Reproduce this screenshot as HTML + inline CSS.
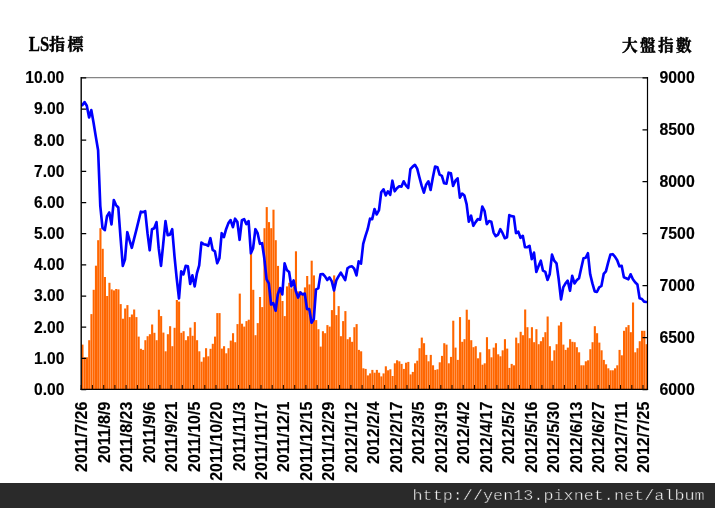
<!DOCTYPE html>
<html lang="zh-Hant">
<head>
<meta charset="utf-8">
<title>LS指標 / 大盤指數</title>
<style>
html,body{margin:0;padding:0;background:#fff;}
body{width:715px;height:508px;overflow:hidden;position:relative;}
svg{position:absolute;left:0;top:0;display:block;}
.ax{font-family:"Liberation Sans",Arial,sans-serif;font-weight:bold;font-size:16px;fill:#000;stroke:#000;stroke-width:0.15px;}
.tt{font-family:"Liberation Serif","Noto Serif CJK SC",serif;font-weight:bold;fill:#000;}
.ft{font-family:"Liberation Mono","Courier New",monospace;font-size:16.6px;fill:#ffffff;stroke:#2a2a2a;stroke-width:0.5px;}
</style>
</head>
<body>
<svg width="715" height="508" viewBox="0 0 715 508">
<rect x="0" y="0" width="715" height="508" fill="#ffffff"/>

<g fill="#ff6600" shape-rendering="auto">
<rect x="81.42" y="344.6" width="2.10" height="44.4"/>
<rect x="83.67" y="357.3" width="2.10" height="31.7"/>
<rect x="85.92" y="357.3" width="2.10" height="31.7"/>
<rect x="88.17" y="340.2" width="2.10" height="48.8"/>
<rect x="90.41" y="314.1" width="2.10" height="74.9"/>
<rect x="92.66" y="289.8" width="2.10" height="99.2"/>
<rect x="94.91" y="265.7" width="2.10" height="123.3"/>
<rect x="97.15" y="240.2" width="2.10" height="148.8"/>
<rect x="99.40" y="228.2" width="2.10" height="160.8"/>
<rect x="101.65" y="248.8" width="2.10" height="140.2"/>
<rect x="103.90" y="277.0" width="2.10" height="112.0"/>
<rect x="106.14" y="296.0" width="2.10" height="93.0"/>
<rect x="108.39" y="282.8" width="2.10" height="106.2"/>
<rect x="110.64" y="289.4" width="2.10" height="99.6"/>
<rect x="112.88" y="290.4" width="2.10" height="98.6"/>
<rect x="115.13" y="289.0" width="2.10" height="100.0"/>
<rect x="117.38" y="289.4" width="2.10" height="99.6"/>
<rect x="119.63" y="304.1" width="2.10" height="84.9"/>
<rect x="121.87" y="318.7" width="2.10" height="70.3"/>
<rect x="124.12" y="308.5" width="2.10" height="80.5"/>
<rect x="126.37" y="305.1" width="2.10" height="83.9"/>
<rect x="128.62" y="317.1" width="2.10" height="71.9"/>
<rect x="130.86" y="314.5" width="2.10" height="74.5"/>
<rect x="133.11" y="309.5" width="2.10" height="79.5"/>
<rect x="135.36" y="317.1" width="2.10" height="71.9"/>
<rect x="137.60" y="336.6" width="2.10" height="52.4"/>
<rect x="139.85" y="348.8" width="2.10" height="40.2"/>
<rect x="142.10" y="349.9" width="2.10" height="39.1"/>
<rect x="144.35" y="340.2" width="2.10" height="48.8"/>
<rect x="146.59" y="336.2" width="2.10" height="52.8"/>
<rect x="148.84" y="334.2" width="2.10" height="54.8"/>
<rect x="151.09" y="324.5" width="2.10" height="64.5"/>
<rect x="153.33" y="332.8" width="2.10" height="56.2"/>
<rect x="155.58" y="340.2" width="2.10" height="48.8"/>
<rect x="157.83" y="309.7" width="2.10" height="79.3"/>
<rect x="160.08" y="316.1" width="2.10" height="72.9"/>
<rect x="162.32" y="332.6" width="2.10" height="56.4"/>
<rect x="164.57" y="351.3" width="2.10" height="37.7"/>
<rect x="166.82" y="334.2" width="2.10" height="54.8"/>
<rect x="169.07" y="326.2" width="2.10" height="62.8"/>
<rect x="171.31" y="346.2" width="2.10" height="42.8"/>
<rect x="173.56" y="327.8" width="2.10" height="61.2"/>
<rect x="175.81" y="300.0" width="2.10" height="89.0"/>
<rect x="178.05" y="301.6" width="2.10" height="87.4"/>
<rect x="180.30" y="332.8" width="2.10" height="56.2"/>
<rect x="182.55" y="331.2" width="2.10" height="57.8"/>
<rect x="184.80" y="340.2" width="2.10" height="48.8"/>
<rect x="187.04" y="336.2" width="2.10" height="52.8"/>
<rect x="189.29" y="327.6" width="2.10" height="61.4"/>
<rect x="191.54" y="335.8" width="2.10" height="53.2"/>
<rect x="193.78" y="322.1" width="2.10" height="66.9"/>
<rect x="196.03" y="340.2" width="2.10" height="48.8"/>
<rect x="198.28" y="351.3" width="2.10" height="37.7"/>
<rect x="200.53" y="361.7" width="2.10" height="27.3"/>
<rect x="202.77" y="357.3" width="2.10" height="31.7"/>
<rect x="205.02" y="348.2" width="2.10" height="40.8"/>
<rect x="207.27" y="356.3" width="2.10" height="32.7"/>
<rect x="209.52" y="348.8" width="2.10" height="40.2"/>
<rect x="211.76" y="343.8" width="2.10" height="45.2"/>
<rect x="214.01" y="336.6" width="2.10" height="52.4"/>
<rect x="216.26" y="313.1" width="2.10" height="75.9"/>
<rect x="218.50" y="313.1" width="2.10" height="75.9"/>
<rect x="220.75" y="348.6" width="2.10" height="40.4"/>
<rect x="223.00" y="346.2" width="2.10" height="42.8"/>
<rect x="225.25" y="353.3" width="2.10" height="35.7"/>
<rect x="227.49" y="348.2" width="2.10" height="40.8"/>
<rect x="229.74" y="340.6" width="2.10" height="48.4"/>
<rect x="231.99" y="333.2" width="2.10" height="55.8"/>
<rect x="234.23" y="342.2" width="2.10" height="46.8"/>
<rect x="236.48" y="324.1" width="2.10" height="64.9"/>
<rect x="238.73" y="293.6" width="2.10" height="95.4"/>
<rect x="240.98" y="323.7" width="2.10" height="65.3"/>
<rect x="243.22" y="326.6" width="2.10" height="62.4"/>
<rect x="245.47" y="321.1" width="2.10" height="67.9"/>
<rect x="247.72" y="319.7" width="2.10" height="69.3"/>
<rect x="249.97" y="252.3" width="2.10" height="136.7"/>
<rect x="252.21" y="289.8" width="2.10" height="99.2"/>
<rect x="254.46" y="335.2" width="2.10" height="53.8"/>
<rect x="256.71" y="323.1" width="2.10" height="65.9"/>
<rect x="258.95" y="297.0" width="2.10" height="92.0"/>
<rect x="261.20" y="307.1" width="2.10" height="81.9"/>
<rect x="263.45" y="228.2" width="2.10" height="160.8"/>
<rect x="265.70" y="207.1" width="2.10" height="181.9"/>
<rect x="267.94" y="222.1" width="2.10" height="166.9"/>
<rect x="270.19" y="228.2" width="2.10" height="160.8"/>
<rect x="272.44" y="209.7" width="2.10" height="179.3"/>
<rect x="274.68" y="240.2" width="2.10" height="148.8"/>
<rect x="276.93" y="265.9" width="2.10" height="123.1"/>
<rect x="279.18" y="288.4" width="2.10" height="100.6"/>
<rect x="281.43" y="301.0" width="2.10" height="88.0"/>
<rect x="283.67" y="316.1" width="2.10" height="72.9"/>
<rect x="285.92" y="286.4" width="2.10" height="102.6"/>
<rect x="288.17" y="282.8" width="2.10" height="106.2"/>
<rect x="290.42" y="288.4" width="2.10" height="100.6"/>
<rect x="292.66" y="286.4" width="2.10" height="102.6"/>
<rect x="294.91" y="251.3" width="2.10" height="137.7"/>
<rect x="297.16" y="291.4" width="2.10" height="97.6"/>
<rect x="299.40" y="291.4" width="2.10" height="97.6"/>
<rect x="301.65" y="292.8" width="2.10" height="96.2"/>
<rect x="303.90" y="287.4" width="2.10" height="101.6"/>
<rect x="306.15" y="276.0" width="2.10" height="113.0"/>
<rect x="308.39" y="284.4" width="2.10" height="104.6"/>
<rect x="310.64" y="260.7" width="2.10" height="128.3"/>
<rect x="312.89" y="275.4" width="2.10" height="113.6"/>
<rect x="315.13" y="320.1" width="2.10" height="68.9"/>
<rect x="317.38" y="329.2" width="2.10" height="59.8"/>
<rect x="319.63" y="346.6" width="2.10" height="42.4"/>
<rect x="321.88" y="331.2" width="2.10" height="57.8"/>
<rect x="324.12" y="333.2" width="2.10" height="55.8"/>
<rect x="326.37" y="325.1" width="2.10" height="63.9"/>
<rect x="328.62" y="326.6" width="2.10" height="62.4"/>
<rect x="330.87" y="310.1" width="2.10" height="78.9"/>
<rect x="333.11" y="275.4" width="2.10" height="113.6"/>
<rect x="335.36" y="315.1" width="2.10" height="73.9"/>
<rect x="337.61" y="306.1" width="2.10" height="82.9"/>
<rect x="339.85" y="336.2" width="2.10" height="52.8"/>
<rect x="342.10" y="321.1" width="2.10" height="67.9"/>
<rect x="344.35" y="311.1" width="2.10" height="77.9"/>
<rect x="346.60" y="339.2" width="2.10" height="49.8"/>
<rect x="348.84" y="337.2" width="2.10" height="51.8"/>
<rect x="351.09" y="341.8" width="2.10" height="47.2"/>
<rect x="353.34" y="327.2" width="2.10" height="61.8"/>
<rect x="355.58" y="324.1" width="2.10" height="64.9"/>
<rect x="357.83" y="349.9" width="2.10" height="39.1"/>
<rect x="360.08" y="351.3" width="2.10" height="37.7"/>
<rect x="362.33" y="368.3" width="2.10" height="20.7"/>
<rect x="364.57" y="368.9" width="2.10" height="20.1"/>
<rect x="366.82" y="375.4" width="2.10" height="13.6"/>
<rect x="369.07" y="373.4" width="2.10" height="15.6"/>
<rect x="371.32" y="369.9" width="2.10" height="19.1"/>
<rect x="373.56" y="372.7" width="2.10" height="16.3"/>
<rect x="375.81" y="369.9" width="2.10" height="19.1"/>
<rect x="378.06" y="372.7" width="2.10" height="16.3"/>
<rect x="380.30" y="376.4" width="2.10" height="12.6"/>
<rect x="382.55" y="373.4" width="2.10" height="15.6"/>
<rect x="384.80" y="366.3" width="2.10" height="22.7"/>
<rect x="387.05" y="370.3" width="2.10" height="18.7"/>
<rect x="389.29" y="369.3" width="2.10" height="19.7"/>
<rect x="391.54" y="376.0" width="2.10" height="13.0"/>
<rect x="393.79" y="363.3" width="2.10" height="25.7"/>
<rect x="396.03" y="360.3" width="2.10" height="28.7"/>
<rect x="398.28" y="361.3" width="2.10" height="27.7"/>
<rect x="400.53" y="363.9" width="2.10" height="25.1"/>
<rect x="402.78" y="368.9" width="2.10" height="20.1"/>
<rect x="405.02" y="362.7" width="2.10" height="26.3"/>
<rect x="407.27" y="361.9" width="2.10" height="27.1"/>
<rect x="409.52" y="374.4" width="2.10" height="14.6"/>
<rect x="411.77" y="371.9" width="2.10" height="17.1"/>
<rect x="414.01" y="363.3" width="2.10" height="25.7"/>
<rect x="416.26" y="360.7" width="2.10" height="28.3"/>
<rect x="418.51" y="348.2" width="2.10" height="40.8"/>
<rect x="420.75" y="337.6" width="2.10" height="51.4"/>
<rect x="423.00" y="343.2" width="2.10" height="45.8"/>
<rect x="425.25" y="354.9" width="2.10" height="34.1"/>
<rect x="427.50" y="361.3" width="2.10" height="27.7"/>
<rect x="429.74" y="354.9" width="2.10" height="34.1"/>
<rect x="431.99" y="365.3" width="2.10" height="23.7"/>
<rect x="434.24" y="369.9" width="2.10" height="19.1"/>
<rect x="436.48" y="369.3" width="2.10" height="19.7"/>
<rect x="438.73" y="362.3" width="2.10" height="26.7"/>
<rect x="440.98" y="355.9" width="2.10" height="33.1"/>
<rect x="443.23" y="343.2" width="2.10" height="45.8"/>
<rect x="445.47" y="344.6" width="2.10" height="44.4"/>
<rect x="447.72" y="363.3" width="2.10" height="25.7"/>
<rect x="449.97" y="356.9" width="2.10" height="32.1"/>
<rect x="452.22" y="320.7" width="2.10" height="68.3"/>
<rect x="454.46" y="347.6" width="2.10" height="41.4"/>
<rect x="456.71" y="359.9" width="2.10" height="29.1"/>
<rect x="458.96" y="317.1" width="2.10" height="71.9"/>
<rect x="461.20" y="341.8" width="2.10" height="47.2"/>
<rect x="463.45" y="339.2" width="2.10" height="49.8"/>
<rect x="465.70" y="309.7" width="2.10" height="79.3"/>
<rect x="467.95" y="319.7" width="2.10" height="69.3"/>
<rect x="470.19" y="340.2" width="2.10" height="48.8"/>
<rect x="472.44" y="347.2" width="2.10" height="41.8"/>
<rect x="474.69" y="346.2" width="2.10" height="42.8"/>
<rect x="476.93" y="358.3" width="2.10" height="30.7"/>
<rect x="479.18" y="352.3" width="2.10" height="36.7"/>
<rect x="481.43" y="364.7" width="2.10" height="24.3"/>
<rect x="483.68" y="363.3" width="2.10" height="25.7"/>
<rect x="485.92" y="337.2" width="2.10" height="51.8"/>
<rect x="488.17" y="349.2" width="2.10" height="39.8"/>
<rect x="490.42" y="357.3" width="2.10" height="31.7"/>
<rect x="492.67" y="347.6" width="2.10" height="41.4"/>
<rect x="494.91" y="343.2" width="2.10" height="45.8"/>
<rect x="497.16" y="354.3" width="2.10" height="34.7"/>
<rect x="499.41" y="356.3" width="2.10" height="32.7"/>
<rect x="501.65" y="350.3" width="2.10" height="38.7"/>
<rect x="503.90" y="339.2" width="2.10" height="49.8"/>
<rect x="506.15" y="348.6" width="2.10" height="40.4"/>
<rect x="508.40" y="367.9" width="2.10" height="21.1"/>
<rect x="510.64" y="363.9" width="2.10" height="25.1"/>
<rect x="512.89" y="365.3" width="2.10" height="23.7"/>
<rect x="515.14" y="337.6" width="2.10" height="51.4"/>
<rect x="517.38" y="343.2" width="2.10" height="45.8"/>
<rect x="519.63" y="331.8" width="2.10" height="57.2"/>
<rect x="521.88" y="335.2" width="2.10" height="53.8"/>
<rect x="524.13" y="309.5" width="2.10" height="79.5"/>
<rect x="526.37" y="327.2" width="2.10" height="61.8"/>
<rect x="528.62" y="338.2" width="2.10" height="50.8"/>
<rect x="530.87" y="327.2" width="2.10" height="61.8"/>
<rect x="533.12" y="342.2" width="2.10" height="46.8"/>
<rect x="535.36" y="329.2" width="2.10" height="59.8"/>
<rect x="537.61" y="344.2" width="2.10" height="44.8"/>
<rect x="539.86" y="341.2" width="2.10" height="47.8"/>
<rect x="542.10" y="337.2" width="2.10" height="51.8"/>
<rect x="544.35" y="332.2" width="2.10" height="56.8"/>
<rect x="546.60" y="316.5" width="2.10" height="72.5"/>
<rect x="548.85" y="346.2" width="2.10" height="42.8"/>
<rect x="551.09" y="360.7" width="2.10" height="28.3"/>
<rect x="553.34" y="350.3" width="2.10" height="38.7"/>
<rect x="555.59" y="344.2" width="2.10" height="44.8"/>
<rect x="557.83" y="325.5" width="2.10" height="63.5"/>
<rect x="560.08" y="322.1" width="2.10" height="66.9"/>
<rect x="562.33" y="344.6" width="2.10" height="44.4"/>
<rect x="564.58" y="349.9" width="2.10" height="39.1"/>
<rect x="566.82" y="347.6" width="2.10" height="41.4"/>
<rect x="569.07" y="339.2" width="2.10" height="49.8"/>
<rect x="571.32" y="341.8" width="2.10" height="47.2"/>
<rect x="573.57" y="342.2" width="2.10" height="46.8"/>
<rect x="575.81" y="347.2" width="2.10" height="41.8"/>
<rect x="578.06" y="352.3" width="2.10" height="36.7"/>
<rect x="580.31" y="365.3" width="2.10" height="23.7"/>
<rect x="582.55" y="365.3" width="2.10" height="23.7"/>
<rect x="584.80" y="361.3" width="2.10" height="27.7"/>
<rect x="587.05" y="360.3" width="2.10" height="28.7"/>
<rect x="589.30" y="349.2" width="2.10" height="39.8"/>
<rect x="591.54" y="342.2" width="2.10" height="46.8"/>
<rect x="593.79" y="326.2" width="2.10" height="62.8"/>
<rect x="596.04" y="333.2" width="2.10" height="55.8"/>
<rect x="598.28" y="342.6" width="2.10" height="46.4"/>
<rect x="600.53" y="350.3" width="2.10" height="38.7"/>
<rect x="602.78" y="359.9" width="2.10" height="29.1"/>
<rect x="605.03" y="364.3" width="2.10" height="24.7"/>
<rect x="607.27" y="368.3" width="2.10" height="20.7"/>
<rect x="609.52" y="370.3" width="2.10" height="18.7"/>
<rect x="611.77" y="370.3" width="2.10" height="18.7"/>
<rect x="614.02" y="368.3" width="2.10" height="20.7"/>
<rect x="616.26" y="365.3" width="2.10" height="23.7"/>
<rect x="618.51" y="349.9" width="2.10" height="39.1"/>
<rect x="620.76" y="355.3" width="2.10" height="33.7"/>
<rect x="623.00" y="330.8" width="2.10" height="58.2"/>
<rect x="625.25" y="327.2" width="2.10" height="61.8"/>
<rect x="627.50" y="325.1" width="2.10" height="63.9"/>
<rect x="629.75" y="332.2" width="2.10" height="56.8"/>
<rect x="631.99" y="302.5" width="2.10" height="86.5"/>
<rect x="634.24" y="352.3" width="2.10" height="36.7"/>
<rect x="636.49" y="348.2" width="2.10" height="40.8"/>
<rect x="638.73" y="341.2" width="2.10" height="47.8"/>
<rect x="640.98" y="330.8" width="2.10" height="58.2"/>
<rect x="643.23" y="330.8" width="2.10" height="58.2"/>
<rect x="645.48" y="344.2" width="2.10" height="44.8"/>
</g>
<polyline points="82.3,105.1 84.6,102.1 86.8,105.7 89.1,117.5 91.3,110.1 93.6,123.1 95.8,136.6 98.1,150.3 100.3,206.1 102.5,227.8 104.8,230.2 107.0,216.1 109.3,212.5 111.5,224.5 113.8,200.0 116.0,205.1 118.3,207.5 120.5,237.2 122.8,265.9 125.0,259.3 127.3,232.2 129.5,240.2 131.8,247.8 134.0,239.2 136.3,230.2 138.5,221.1 140.8,211.7 143.0,212.1 145.2,211.1 147.5,233.2 149.7,250.3 152.0,229.2 154.2,228.2 156.5,222.1 158.7,248.2 161.0,265.9 163.2,244.2 165.5,221.1 167.7,235.2 170.0,234.6 172.2,229.2 174.5,256.3 176.7,278.4 179.0,298.5 181.2,271.3 183.4,274.4 185.7,265.9 187.9,266.3 190.2,284.0 192.4,275.4 194.7,286.4 196.9,273.4 199.2,265.3 201.4,242.6 203.7,244.2 205.9,244.6 208.2,245.8 210.4,238.2 212.7,249.9 214.9,251.3 217.2,263.3 219.4,258.3 221.7,233.2 223.9,237.2 226.1,229.2 228.4,223.1 230.6,220.1 232.9,227.2 235.1,218.7 237.4,222.1 239.6,239.8 241.9,220.1 244.1,219.1 246.4,224.1 248.6,221.1 250.9,253.3 253.1,248.2 255.4,229.2 257.6,233.2 259.9,243.8 262.1,243.2 264.3,258.3 266.6,279.4 268.8,283.4 271.1,304.5 273.3,303.1 275.6,310.7 277.8,294.4 280.1,288.0 282.3,294.4 284.6,263.3 286.8,269.9 289.1,271.9 291.3,286.4 293.6,280.4 295.8,291.0 298.1,297.6 300.3,292.4 302.6,294.4 304.8,293.6 307.0,309.1 309.3,309.1 311.5,322.7 313.8,319.1 316.0,289.4 318.3,288.4 320.5,274.4 322.8,274.0 325.0,276.4 327.3,280.0 329.5,277.4 331.8,281.4 334.0,290.4 336.3,280.4 338.5,276.4 340.8,272.7 343.0,276.4 345.2,280.0 347.5,268.3 349.7,266.7 352.0,266.3 354.2,268.7 356.5,275.4 358.7,261.3 361.0,263.7 363.2,243.8 365.5,235.8 367.7,229.2 370.0,218.7 372.2,219.1 374.5,209.1 376.7,214.5 379.0,210.1 381.2,192.3 383.5,189.3 385.7,195.4 387.9,191.3 390.2,194.8 392.4,180.7 394.7,191.3 396.9,188.3 399.2,186.3 401.4,186.7 403.7,181.3 405.9,185.3 408.2,187.9 410.4,169.2 412.7,166.6 414.9,164.8 417.2,168.6 419.4,177.3 421.7,185.9 423.9,192.7 426.1,184.7 428.4,181.3 430.6,189.9 432.9,177.3 435.1,166.6 437.4,167.2 439.6,174.7 441.9,175.9 444.1,183.3 446.4,183.7 448.6,172.7 450.9,173.3 453.1,185.9 455.4,180.7 457.6,178.3 459.9,197.6 462.1,193.6 464.4,195.6 466.6,204.1 468.8,221.7 471.1,215.7 473.3,225.8 475.6,222.1 477.8,219.1 480.1,219.7 482.3,206.5 484.6,211.1 486.8,224.1 489.1,221.1 491.3,221.7 493.6,232.6 495.8,236.2 498.1,234.6 500.3,229.2 502.6,233.2 504.8,238.2 507.0,237.2 509.3,215.1 511.5,216.1 513.8,216.5 516.0,233.1 518.3,231.7 520.5,237.8 522.8,235.8 525.0,247.2 527.3,247.2 529.5,245.8 531.8,259.2 534.0,252.6 536.3,271.9 538.5,266.3 540.8,260.7 543.0,270.7 545.3,271.9 547.5,279.9 549.7,274.3 552.0,254.6 554.2,260.7 556.5,263.3 558.7,279.3 561.0,299.4 563.2,287.4 565.5,283.4 567.7,280.7 570.0,290.8 572.2,275.9 574.5,283.4 576.7,280.3 579.0,278.3 581.2,268.3 583.5,258.2 585.7,257.8 587.9,253.2 590.2,274.3 592.4,283.4 594.7,291.4 596.9,292.0 599.2,287.4 601.4,286.0 603.7,273.9 605.9,271.3 608.2,262.3 610.4,254.6 612.7,254.2 614.9,256.6 617.2,260.3 619.4,266.3 621.7,265.9 623.9,277.3 626.2,278.3 628.4,279.3 630.6,274.3 632.9,279.3 635.1,282.3 637.4,284.4 639.6,298.2 641.9,299.0 644.1,301.6 646.4,302.0" fill="none" stroke="#0000ff" stroke-width="2.65" stroke-linejoin="round" stroke-linecap="round"/>
<line x1="81.2" y1="77.6" x2="647.5" y2="77.6" stroke="#858585" stroke-width="1.2"/>
<line x1="81.2" y1="77.0" x2="81.2" y2="390.0" stroke="#000" stroke-width="1.4"/>
<line x1="647.5" y1="77.0" x2="647.5" y2="390.0" stroke="#000" stroke-width="1.2"/>
<line x1="80.5" y1="389.4" x2="648.1" y2="389.4" stroke="#000" stroke-width="1.2"/>
<path d="M81.2 389.5h5M81.2 358.3h5M81.2 327.2h5M81.2 296.0h5M81.2 264.8h5M81.2 233.7h5M81.2 202.5h5M81.2 171.3h5M81.2 140.1h5M81.2 109.0h5M81.2 77.8h5M647.5 389.5h-5M647.5 337.6h-5M647.5 285.6h-5M647.5 233.7h-5M647.5 181.7h-5M647.5 129.8h-5M647.5 77.8h-5" stroke="#000" stroke-width="1.25" fill="none"/>
<path d="M81.2 389.5v-4.5M92.4 389.5v-4.5M103.7 389.5v-4.5M114.9 389.5v-4.5M126.1 389.5v-4.5M137.4 389.5v-4.5M148.6 389.5v-4.5M159.9 389.5v-4.5M171.1 389.5v-4.5M182.3 389.5v-4.5M193.6 389.5v-4.5M204.8 389.5v-4.5M216.0 389.5v-4.5M227.3 389.5v-4.5M238.5 389.5v-4.5M249.7 389.5v-4.5M261.0 389.5v-4.5M272.2 389.5v-4.5M283.4 389.5v-4.5M294.7 389.5v-4.5M305.9 389.5v-4.5M317.2 389.5v-4.5M328.4 389.5v-4.5M339.6 389.5v-4.5M350.9 389.5v-4.5M362.1 389.5v-4.5M373.3 389.5v-4.5M384.6 389.5v-4.5M395.8 389.5v-4.5M407.0 389.5v-4.5M418.3 389.5v-4.5M429.5 389.5v-4.5M440.8 389.5v-4.5M452.0 389.5v-4.5M463.2 389.5v-4.5M474.5 389.5v-4.5M485.7 389.5v-4.5M496.9 389.5v-4.5M508.2 389.5v-4.5M519.4 389.5v-4.5M530.6 389.5v-4.5M541.9 389.5v-4.5M553.1 389.5v-4.5M564.4 389.5v-4.5M575.6 389.5v-4.5M586.8 389.5v-4.5M598.1 389.5v-4.5M609.3 389.5v-4.5M620.5 389.5v-4.5M631.8 389.5v-4.5M643.0 389.5v-4.5" stroke="#1c0b00" stroke-width="1.05" fill="none"/>
<g class="ax">
<text transform="translate(64.3 394.9) scale(0.975 1.03)" text-anchor="end">0.00</text>
<text transform="translate(64.3 363.7) scale(0.975 1.03)" text-anchor="end">1.00</text>
<text transform="translate(64.3 332.6) scale(0.975 1.03)" text-anchor="end">2.00</text>
<text transform="translate(64.3 301.4) scale(0.975 1.03)" text-anchor="end">3.00</text>
<text transform="translate(64.3 270.2) scale(0.975 1.03)" text-anchor="end">4.00</text>
<text transform="translate(64.3 239.1) scale(0.975 1.03)" text-anchor="end">5.00</text>
<text transform="translate(64.3 207.9) scale(0.975 1.03)" text-anchor="end">6.00</text>
<text transform="translate(64.3 176.7) scale(0.975 1.03)" text-anchor="end">7.00</text>
<text transform="translate(64.3 145.5) scale(0.975 1.03)" text-anchor="end">8.00</text>
<text transform="translate(64.3 114.4) scale(0.975 1.03)" text-anchor="end">9.00</text>
<text transform="translate(64.3 83.2) scale(0.975 1.03)" text-anchor="end">10.00</text>
<text transform="translate(659.5 394.9) scale(0.99 1.03)">6000</text>
<text transform="translate(659.5 342.9) scale(0.99 1.03)">6500</text>
<text transform="translate(659.5 291.0) scale(0.99 1.03)">7000</text>
<text transform="translate(659.5 239.1) scale(0.99 1.03)">7500</text>
<text transform="translate(659.5 187.1) scale(0.99 1.03)">8000</text>
<text transform="translate(659.5 135.2) scale(0.99 1.03)">8500</text>
<text transform="translate(659.5 83.2) scale(0.99 1.03)">9000</text>
<text transform="translate(87.1 401.7) rotate(-90) scale(1.0 1.07)" text-anchor="end">2011/7/26</text>
<text transform="translate(109.6 401.7) rotate(-90) scale(1.0 1.07)" text-anchor="end">2011/8/9</text>
<text transform="translate(132.1 401.7) rotate(-90) scale(1.0 1.07)" text-anchor="end">2011/8/23</text>
<text transform="translate(154.5 401.7) rotate(-90) scale(1.0 1.07)" text-anchor="end">2011/9/6</text>
<text transform="translate(177.0 401.7) rotate(-90) scale(1.0 1.07)" text-anchor="end">2011/9/21</text>
<text transform="translate(199.5 401.7) rotate(-90) scale(1.0 1.07)" text-anchor="end">2011/10/5</text>
<text transform="translate(222.0 401.7) rotate(-90) scale(1.0 1.07)" text-anchor="end">2011/10/20</text>
<text transform="translate(244.5 401.7) rotate(-90) scale(1.0 1.07)" text-anchor="end">2011/11/3</text>
<text transform="translate(266.9 401.7) rotate(-90) scale(1.0 1.07)" text-anchor="end">2011/11/17</text>
<text transform="translate(289.4 401.7) rotate(-90) scale(1.0 1.07)" text-anchor="end">2011/12/1</text>
<text transform="translate(311.9 401.7) rotate(-90) scale(1.0 1.07)" text-anchor="end">2011/12/15</text>
<text transform="translate(334.4 401.7) rotate(-90) scale(1.0 1.07)" text-anchor="end">2011/12/29</text>
<text transform="translate(356.9 401.7) rotate(-90) scale(1.0 1.07)" text-anchor="end">2012/1/12</text>
<text transform="translate(379.3 401.7) rotate(-90) scale(1.0 1.07)" text-anchor="end">2012/2/4</text>
<text transform="translate(401.8 401.7) rotate(-90) scale(1.0 1.07)" text-anchor="end">2012/2/17</text>
<text transform="translate(424.3 401.7) rotate(-90) scale(1.0 1.07)" text-anchor="end">2012/3/5</text>
<text transform="translate(446.8 401.7) rotate(-90) scale(1.0 1.07)" text-anchor="end">2012/3/19</text>
<text transform="translate(469.3 401.7) rotate(-90) scale(1.0 1.07)" text-anchor="end">2012/4/2</text>
<text transform="translate(491.7 401.7) rotate(-90) scale(1.0 1.07)" text-anchor="end">2012/4/17</text>
<text transform="translate(514.2 401.7) rotate(-90) scale(1.0 1.07)" text-anchor="end">2012/5/2</text>
<text transform="translate(536.7 401.7) rotate(-90) scale(1.0 1.07)" text-anchor="end">2012/5/16</text>
<text transform="translate(559.2 401.7) rotate(-90) scale(1.0 1.07)" text-anchor="end">2012/5/30</text>
<text transform="translate(581.7 401.7) rotate(-90) scale(1.0 1.07)" text-anchor="end">2012/6/13</text>
<text transform="translate(604.1 401.7) rotate(-90) scale(1.0 1.07)" text-anchor="end">2012/6/27</text>
<text transform="translate(626.6 401.7) rotate(-90) scale(1.0 1.07)" text-anchor="end">2012/7/11</text>
<text transform="translate(649.1 401.7) rotate(-90) scale(1.0 1.07)" text-anchor="end">2012/7/25</text>
</g>
<text class="tt" transform="translate(28.8 50.6) scale(0.93 1.12)" font-size="18px" stroke="#000" stroke-width="0.3">LS</text>
<text class="tt" x="49.0" y="49.8" font-size="16px" letter-spacing="2.6px" stroke="#000" stroke-width="0.5">指標</text>
<text class="tt" x="622.1" y="51.3" font-size="15.6px" letter-spacing="2.4px" stroke="#000" stroke-width="0.5">大盤指數</text>
<rect x="0" y="483" width="715" height="25" fill="#2a2a2a"/>
<text class="ft" transform="translate(704.6 499.8) scale(1.012 0.85)" text-anchor="end">http://yen13.pixnet.net/album</text>
</svg>
</body>
</html>
